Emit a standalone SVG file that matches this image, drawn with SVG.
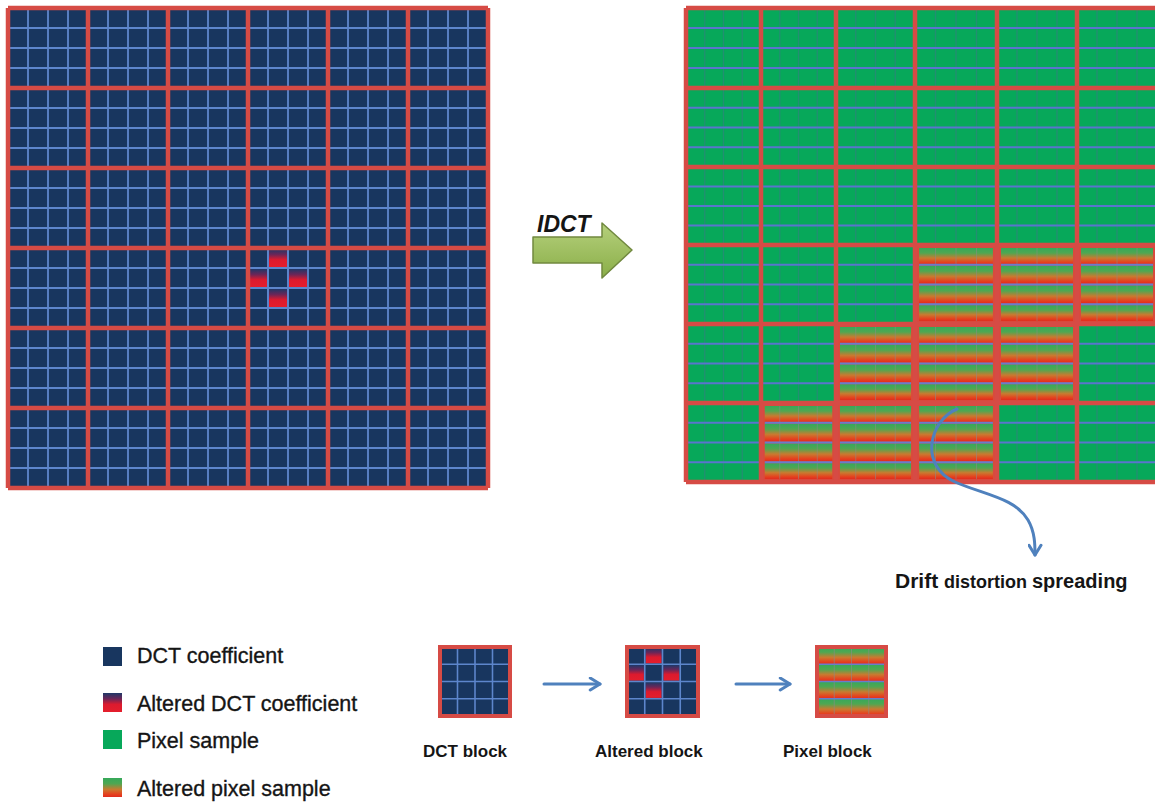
<svg xmlns="http://www.w3.org/2000/svg" xmlns:xlink="http://www.w3.org/1999/xlink" width="1155" height="803" viewBox="0 0 1155 803">
<style>
.red{fill:none;stroke:#D64B45;stroke-width:4.5}
.redb{fill:none;stroke:#D64B45;stroke-width:4}
.lbl{font-family:"Liberation Sans",Arial,sans-serif;fill:#151515}
.leg{font-size:21.5px;stroke:#151515;stroke-width:0.35}
.blk{font-size:17px;font-weight:bold}
.conn{fill:none;stroke:#4F81BD;stroke-width:3;stroke-linecap:round}
</style>
<defs>
<linearGradient id="altGrad" x1="0" y1="0" x2="0" y2="1">
<stop offset="0" stop-color="#1F3868"/><stop offset="0.3" stop-color="#6A2658"/><stop offset="0.6" stop-color="#DC1A2E"/><stop offset="1" stop-color="#E41E2C"/>
</linearGradient>
<linearGradient id="apGrad" x1="0" y1="0" x2="0" y2="1">
<stop offset="0" stop-color="#35A95A"/><stop offset="0.3" stop-color="#4FA752"/><stop offset="0.6" stop-color="#C97A30"/><stop offset="0.85" stop-color="#E5421F"/><stop offset="1" stop-color="#E02C1E"/>
</linearGradient>
<linearGradient id="idctGrad" x1="0" y1="0" x2="0" y2="1">
<stop offset="0" stop-color="#B5D07C"/><stop offset="1" stop-color="#8AAE48"/>
</linearGradient>
<pattern id="dctCells" x="-2" y="-2" width="20" height="20" patternUnits="userSpaceOnUse">
<rect width="20" height="20" fill="#18365F"/>
<path d="M10 0V20M0 10H20" stroke="#5D86CC" stroke-width="1.8"/>
</pattern>
<symbol id="dctB" viewBox="0 0 80 80" preserveAspectRatio="none">
<rect width="80" height="80" fill="#18365F"/>
<path d="M20 0V80M40 0V80M60 0V80M0 20H80M0 40H80M0 60H80" stroke="#5D86CC" stroke-width="1.8"/>
</symbol>
<symbol id="altB" viewBox="0 0 80 80" preserveAspectRatio="none">
<rect width="80" height="80" fill="#18365F"/>
<rect x="21" y="1" width="18" height="18" fill="url(#altGrad)"/>
<rect x="1" y="21" width="18" height="18" fill="url(#altGrad)"/>
<rect x="41" y="21" width="18" height="18" fill="url(#altGrad)"/>
<rect x="21" y="41" width="18" height="18" fill="url(#altGrad)"/>
<path d="M20 0V80M40 0V80M60 0V80M0 20H80M0 40H80M0 60H80" stroke="#5D86CC" stroke-width="1.8"/>
</symbol>
<symbol id="pxB" viewBox="0 0 80 80" preserveAspectRatio="none">
<rect width="80" height="80" fill="#07A85A"/>
<path d="M20 0V80M40 0V80M60 0V80" stroke="#2A8A78" stroke-width="1.4" opacity="0.8"/>
<path d="M0 20H80M0 40H80M0 60H80" stroke="#5A74CE" stroke-width="2"/>
</symbol>
<symbol id="apB" viewBox="0 0 80 80" preserveAspectRatio="none">
<rect width="80" height="80" fill="#D84A3E"/>
<rect x="4" y="3" width="72" height="17" fill="url(#apGrad)"/>
<rect x="4" y="21" width="72" height="18" fill="url(#apGrad)"/>
<rect x="4" y="41" width="72" height="18" fill="url(#apGrad)"/>
<rect x="4" y="61" width="72" height="16" fill="url(#apGrad)"/>
<path d="M20 3V77M40 3V77M60 3V77" stroke="#8C8C86" stroke-width="1" opacity="0.55"/>
<path d="M4 20H76M4 40H76M4 60H76" stroke="#6A7CCB" stroke-width="2"/>
</symbol>
<symbol id="apS" viewBox="0 0 80 80" preserveAspectRatio="none">
<rect x="0" y="0" width="80" height="20" fill="url(#apGrad)"/>
<rect x="0" y="20" width="80" height="20" fill="url(#apGrad)"/>
<rect x="0" y="40" width="80" height="20" fill="url(#apGrad)"/>
<rect x="0" y="60" width="80" height="20" fill="url(#apGrad)"/>
<path d="M20 0V80M40 0V80M60 0V80" stroke="#8C8C86" stroke-width="1.2" opacity="0.6"/>
<path d="M0 20H80M0 40H80M0 60H80" stroke="#6A7CCB" stroke-width="2"/>
</symbol>
<marker id="chev" viewBox="0 0 10 10" refX="8" refY="5" markerWidth="5" markerHeight="5" orient="auto" markerUnits="strokeWidth">
<path d="M1.5 1L8 5L1.5 9" fill="none" stroke="#4F81BD" stroke-width="2" stroke-linecap="round" stroke-linejoin="round"/>
</marker>
</defs>
<rect width="1155" height="803" fill="#FFFFFF"/>

<g id="dct-grid">
<rect x="8" y="8" width="480" height="480" fill="url(#dctCells)"/>
<rect x="269" y="249" width="18" height="18" fill="url(#altGrad)"/>
<rect x="249" y="269" width="18" height="18" fill="url(#altGrad)"/>
<rect x="289" y="269" width="18" height="18" fill="url(#altGrad)"/>
<rect x="269" y="289" width="18" height="18" fill="url(#altGrad)"/>
<path d="M268 248V328M288 248V328M248 268H328M248 288H328" stroke="#5D86CC" stroke-width="1.8"/>
<path class="red" d="M8 8H488M8 88H488M8 168H488M8 248H488M8 328H488M8 408H488M8 488H488M8 8V488M88 8V488M168 8V488M248 8V488M328 8V488M408 8V488M488 8V488"/>
</g>

<g id="pixel-grid">
<use href="#pxB" x="686" y="8" width="75" height="80"/>
<use href="#pxB" x="761" y="8" width="75" height="80"/>
<use href="#pxB" x="836" y="8" width="79" height="80"/>
<use href="#pxB" x="915" y="8" width="82" height="80"/>
<use href="#pxB" x="997" y="8" width="80" height="80"/>
<use href="#pxB" x="1077" y="8" width="80" height="80"/>
<use href="#pxB" x="686" y="88" width="75" height="79"/>
<use href="#pxB" x="761" y="88" width="75" height="79"/>
<use href="#pxB" x="836" y="88" width="79" height="79"/>
<use href="#pxB" x="915" y="88" width="82" height="79"/>
<use href="#pxB" x="997" y="88" width="80" height="79"/>
<use href="#pxB" x="1077" y="88" width="80" height="79"/>
<use href="#pxB" x="686" y="167" width="75" height="78"/>
<use href="#pxB" x="761" y="167" width="75" height="78"/>
<use href="#pxB" x="836" y="167" width="79" height="78"/>
<use href="#pxB" x="915" y="167" width="82" height="78"/>
<use href="#pxB" x="997" y="167" width="80" height="78"/>
<use href="#pxB" x="1077" y="167" width="80" height="78"/>
<use href="#pxB" x="686" y="245" width="75" height="79"/>
<use href="#pxB" x="761" y="245" width="75" height="79"/>
<use href="#pxB" x="836" y="245" width="79" height="79"/>
<use href="#apB" x="915" y="245" width="82" height="79"/>
<use href="#apB" x="997" y="245" width="80" height="79"/>
<use href="#apB" x="1077" y="245" width="80" height="79"/>
<use href="#pxB" x="686" y="324" width="75" height="79"/>
<use href="#pxB" x="761" y="324" width="75" height="79"/>
<use href="#apB" x="836" y="324" width="79" height="79"/>
<use href="#apB" x="915" y="324" width="82" height="79"/>
<use href="#apB" x="997" y="324" width="80" height="79"/>
<use href="#pxB" x="1077" y="324" width="80" height="79"/>
<use href="#pxB" x="686" y="403" width="75" height="79"/>
<use href="#apB" x="761" y="403" width="75" height="79"/>
<use href="#apB" x="836" y="403" width="79" height="79"/>
<use href="#apB" x="915" y="403" width="82" height="79"/>
<use href="#pxB" x="997" y="403" width="80" height="79"/>
<use href="#pxB" x="1077" y="403" width="80" height="79"/>
<path class="red" d="M686 8H1157M686 88H1157M686 167H1157M686 245H1157M686 324H1157M686 403H1157M686 482H1157M686 8V482M761 8V482M836 8V482M915 8V482M997 8V482M1077 8V482"/>
</g>

<g id="idct">
<polygon points="533,237 602,237 602,223 632,250 602,278 602,263 533,263" fill="url(#idctGrad)" stroke="#71893F" stroke-width="1.5" stroke-linejoin="round"/>
<text class="lbl" x="537" y="232" font-size="23" font-weight="bold" font-style="italic">IDCT</text>
</g>

<g id="drift-label">
<text class="lbl" y="588" font-weight="bold"><tspan x="895" font-size="21">Drift</tspan><tspan x="944" font-size="18">distortion</tspan><tspan x="1032" font-size="20">spreading</tspan></text>
</g>

<g id="legend-dct">
<rect x="103" y="647" width="19" height="19" fill="#18365F"/>
<text class="lbl leg" x="137" y="663">DCT coefficient</text>
</g>
<g id="legend-altered-dct">
<rect x="103" y="693" width="19" height="19" fill="url(#altGrad)"/>
<text class="lbl leg" x="137" y="711">Altered DCT coefficient</text>
</g>
<g id="legend-pixel">
<rect x="103" y="730" width="19" height="19" fill="#07A85A"/>
<text class="lbl leg" x="137" y="748">Pixel sample</text>
</g>
<g id="legend-altered-pixel">
<rect x="103" y="778" width="19" height="19" fill="url(#apGrad)"/>
<text class="lbl leg" x="137" y="796">Altered pixel sample</text>
</g>

<g id="dct-block">
<use href="#dctB" x="440" y="647" width="70" height="69"/>
<rect class="redb" x="440" y="647" width="70" height="69"/>
<text class="lbl blk" x="423" y="757">DCT block</text>
</g>
<g id="altered-block">
<use href="#altB" x="627" y="647" width="71" height="69"/>
<rect class="redb" x="627" y="647" width="71" height="69"/>
<text class="lbl blk" x="595" y="757">Altered block</text>
</g>
<g id="pixel-block">
<use href="#apS" x="817" y="647" width="69" height="69"/>
<rect class="redb" x="817" y="647" width="69" height="69"/>
<text class="lbl blk" x="783" y="757">Pixel block</text>
</g>

<g id="connectors">
<path class="conn" d="M957 409C930 420 918 465 955 482C985 495 1015 498 1028 520C1035 532 1035 545 1035 555" marker-end="url(#chev)"/>
<path class="conn" d="M544 684H600" marker-end="url(#chev)"/>
<path class="conn" d="M736 684H790" marker-end="url(#chev)"/>
</g>
</svg>
